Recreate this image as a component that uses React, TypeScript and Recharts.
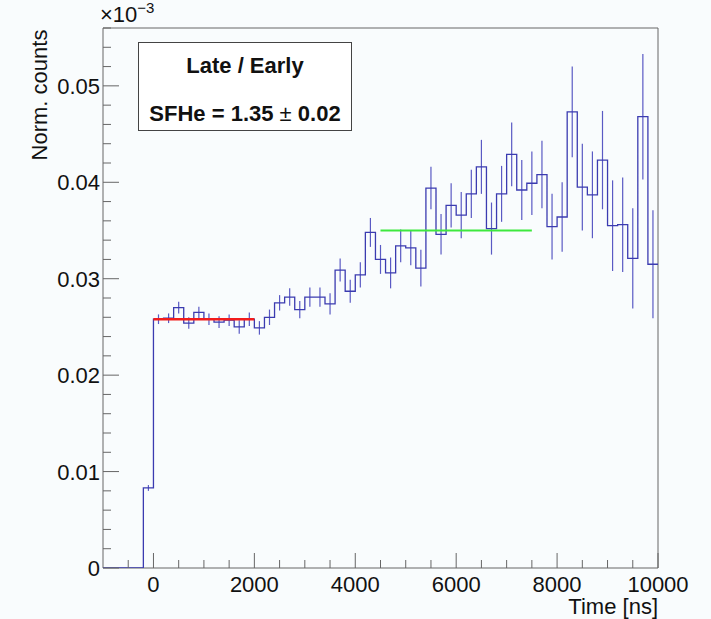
import { ComposedChart, Line, Scatter, ErrorBar, XAxis, YAxis, ReferenceArea } from "recharts";

// histogram: 200 ns bins starting at -200 ns
const firstBinLow = -200;
const binWidth = 200;
const counts = [
  0.0083,
  0.0258, 0.0259, 0.0270, 0.0254, 0.0265, 0.0258, 0.0255, 0.0257, 0.0250, 0.0258,
  0.0249, 0.0260, 0.0275, 0.0281, 0.0268, 0.0281, 0.0281, 0.0274, 0.0309, 0.0287,
  0.0304, 0.0348, 0.0320, 0.0306, 0.0334, 0.0332, 0.0311, 0.0394, 0.0346, 0.0376,
  0.0366, 0.0388, 0.0416, 0.0352, 0.0388, 0.0429, 0.0392, 0.0399, 0.0408, 0.0354,
  0.0364, 0.0473, 0.0395, 0.0387, 0.0423, 0.0355, 0.0356, 0.0321, 0.0468, 0.0315,
];
const errors = [
  0.0003,
  0.0005, 0.0005, 0.0006, 0.0006, 0.0006, 0.0006, 0.0006, 0.0006, 0.0007, 0.0007,
  0.0007, 0.0008, 0.0008, 0.0009, 0.0009, 0.0010, 0.0010, 0.0011, 0.0012, 0.0012,
  0.0013, 0.0015, 0.0015, 0.0016, 0.0017, 0.0018, 0.0019, 0.0022, 0.0021, 0.0023,
  0.0024, 0.0025, 0.0028, 0.0027, 0.0029, 0.0033, 0.0031, 0.0033, 0.0035, 0.0034,
  0.0036, 0.0047, 0.0045, 0.0045, 0.0051, 0.0047, 0.0049, 0.0052, 0.0065, 0.0056,
];

// fits
const earlyFit = [{ x: 0, y: 0.0258 }, { x: 2000, y: 0.0258 }];
const lateFit = [{ x: 4500, y: 0.035 }, { x: 7500, y: 0.035 }];

const xDomain = [-1000, 10000];
const yDomain = [0, 0.056];
const xTicks = [-500, 0, 500, 1000, 1500, 2000, 2500, 3000, 3500, 4000, 4500, 5000, 5500, 6000, 6500, 7000, 7500, 8000, 8500, 9000, 9500, 10000];
const yTicks = Array.from({ length: 29 }, (_, i) => i * 0.002);

const stepData = [
  { x: xDomain[0], y: 0 },
  ...counts.map((c, i) => ({ x: firstBinLow + i * binWidth, y: c })),
  { x: firstBinLow + counts.length * binWidth, y: counts[counts.length - 1] },
];
const centers = counts.map((c, i) => ({ x: firstBinLow + (i + 0.5) * binWidth, y: c, err: errors[i] }));

const FONT = "'Liberation Sans', Arial, Helvetica, sans-serif";
const TXT = "#111";
const FRAME = "#666";

const XTick = ({ x, y, payload }) => {
  const v = payload.value;
  const major = v % 2000 === 0;
  return (
    <g>
      <line x1={x} x2={x} y1={y} y2={y - (major ? 15 : 8)} stroke={FRAME} strokeWidth={1} />
      {major && v >= 0 && (
        <text x={x} y={y + 24} textAnchor="middle" fontSize={22} fontFamily={FONT} fill={TXT}>
          {v}
        </text>
      )}
    </g>
  );
};

const YTick = ({ x, y, payload }) => {
  const v = payload.value;
  const major = Math.abs(v * 100 - Math.round(v * 100)) < 1e-9;
  return (
    <g>
      <line x1={x} x2={x + (major ? 16 : 8)} y1={y} y2={y} stroke={FRAME} strokeWidth={1} />
      {major && (
        <text x={x - 3} y={y + 8} textAnchor="end" fontSize={22} fontFamily={FONT} fill={TXT}>
          {v === 0 ? "0" : v.toFixed(2)}
        </text>
      )}
    </g>
  );
};

export default function App() {
  return (
    <div style={{ position: "absolute", left: 0, top: 0, width: 711, height: 619, background: "#f9fcfd", fontFamily: FONT }}>
      <ComposedChart width={711} height={619} margin={{ top: 28, right: 53, bottom: 0, left: 0 }}>
        <XAxis
          dataKey="x"
          type="number"
          domain={xDomain}
          ticks={xTicks}
          interval={0}
          allowDataOverflow
          axisLine={false}
          tickLine={false}
          tickSize={0}
          tickMargin={0}
          height={51}
          tick={<XTick />}
        />
        <YAxis
          dataKey="y"
          type="number"
          domain={yDomain}
          ticks={yTicks}
          interval={0}
          allowDataOverflow
          axisLine={false}
          tickLine={false}
          tickSize={0}
          tickMargin={0}
          width={103}
          tick={<YTick />}
        />
        <ReferenceArea x1={xDomain[0]} x2={xDomain[1]} y1={yDomain[0]} y2={yDomain[1]} fill="none" stroke={FRAME} strokeWidth={1} />
        <Scatter data={centers} isAnimationActive={false} shape={() => <g />}>
          <ErrorBar dataKey="err" direction="y" width={0} stroke="#5a5ac4" strokeWidth={1.2} />
        </Scatter>
        <Line data={stepData} dataKey="y" type="stepAfter" stroke="#3b3bb0" strokeWidth={1.3} dot={false} isAnimationActive={false} />
        <Line data={earlyFit} dataKey="y" stroke="#f21c1c" strokeWidth={2.5} dot={false} isAnimationActive={false} />
        <Line data={lateFit} dataKey="y" stroke="#3ee83e" strokeWidth={2.2} dot={false} isAnimationActive={false} />
      </ComposedChart>

      <div style={{ position: "absolute", left: 100, top: 2, fontSize: 22, color: TXT, whiteSpace: "nowrap" }}>
        ×10<sup style={{ fontSize: 15, verticalAlign: "9px", lineHeight: 0 }}>−3</sup>
      </div>
      <div
        style={{
          position: "absolute",
          left: 40,
          top: 95,
          transform: "translate(-50%, -50%) rotate(-90deg)",
          fontSize: 22,
          color: TXT,
          whiteSpace: "nowrap",
        }}
      >
        Norm. counts
      </div>
      <div style={{ position: "absolute", right: 711 - 658, top: 596, fontSize: 22, lineHeight: "22px", color: TXT, whiteSpace: "nowrap" }}>
        Time [ns]
      </div>
      <div
        style={{
          position: "absolute",
          left: 138,
          top: 42,
          width: 214,
          height: 89,
          boxSizing: "border-box",
          border: "1px solid #444",
          background: "#fff",
          color: TXT,
          fontWeight: "bold",
          fontSize: 22,
          textAlign: "center",
        }}
      >
        <div style={{ position: "absolute", left: 0, right: 0, top: 10 }}>Late / Early</div>
        <div style={{ position: "absolute", left: 0, right: 0, top: 58 }}>
          SFHe = 1.35 <span style={{ fontWeight: "normal" }}>±</span> 0.02
        </div>
      </div>
    </div>
  );
}
